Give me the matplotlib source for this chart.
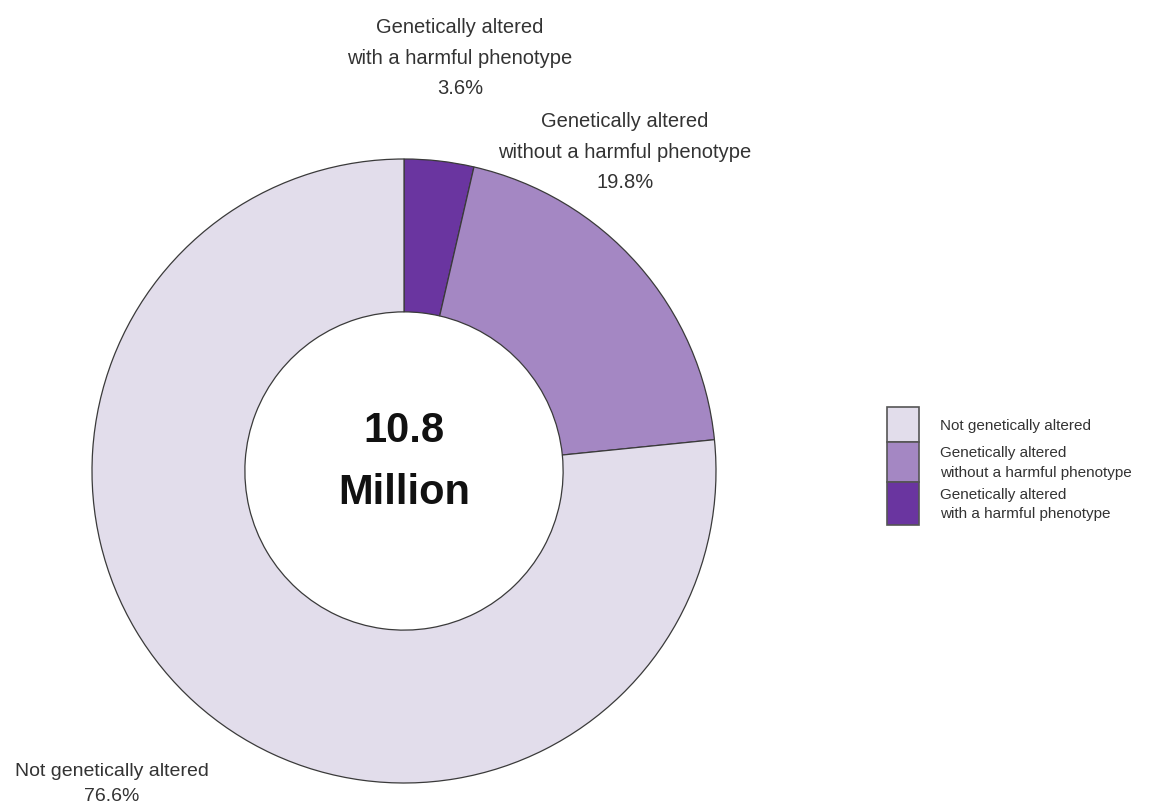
import matplotlib
matplotlib.use("Agg")
import matplotlib.pyplot as plt
from matplotlib.patches import Rectangle

plt.rcParams['font.family'] = ['Liberation Sans', 'DejaVu Sans']

# Data (clockwise from 12 o'clock)
categories = ["Genetically altered\nwith a harmful phenotype",
              "Genetically altered\nwithout a harmful phenotype",
              "Not genetically altered"]
values = [3.6, 19.8, 76.6]
colors = ["#6A35A0", "#A487C3", "#E2DDEB"]
total_text = "10.8\nMillion"

W, H = 1151, 809
fig = plt.figure(figsize=(W / 100, H / 100), dpi=100)
ax = fig.add_axes([0, 0, 1, 1])

def Y(py):
    return H - py

cx, cy, R = 404, Y(471), 312
wedges, _ = ax.pie(values, colors=colors, startangle=90, counterclock=False,
                   center=(cx, cy), radius=R, frame=True,
                   wedgeprops=dict(width=R * 0.49, edgecolor="#3a3a3a", linewidth=0.9))
ax.set_xlim(0, W)
ax.set_ylim(0, H)
ax.set_aspect('equal')
ax.axis('off')

tc = "#333333"
# Slice labels
ax.text(460, Y(58), f"{categories[0]}\n{values[0]}%", ha='center', va='center',
        fontsize=14.5, linespacing=1.76, color=tc)
ax.text(625, Y(152), f"{categories[1]}\n{values[1]}%", ha='center', va='center',
        fontsize=14.5, linespacing=1.76, color=tc)
ax.text(112, Y(784), f"{categories[2]}\n{values[2]}%", ha='center', va='center',
        fontsize=14, linespacing=1.55, color=tc)

# Center text
ax.text(cx, Y(462), total_text, ha='center', va='center', fontsize=30,
        fontweight='bold', linespacing=1.72, color="#111111")

# Legend (top to bottom: light, medium, dark)
leg_order = [2, 1, 0]
bounds = [407, 442, 482, 525]
for i, k in enumerate(leg_order):
    y0, y1 = bounds[i], bounds[i + 1]
    ax.add_patch(Rectangle((887, Y(y1)), 32, y1 - y0, facecolor=colors[k],
                           edgecolor="#555555", linewidth=1.2))
    ax.text(940, Y((y0 + y1) / 2 + 1), categories[k], ha='left', va='center',
            fontsize=11, linespacing=1.5, color=tc)

fig.savefig("out.png", dpi=100)
